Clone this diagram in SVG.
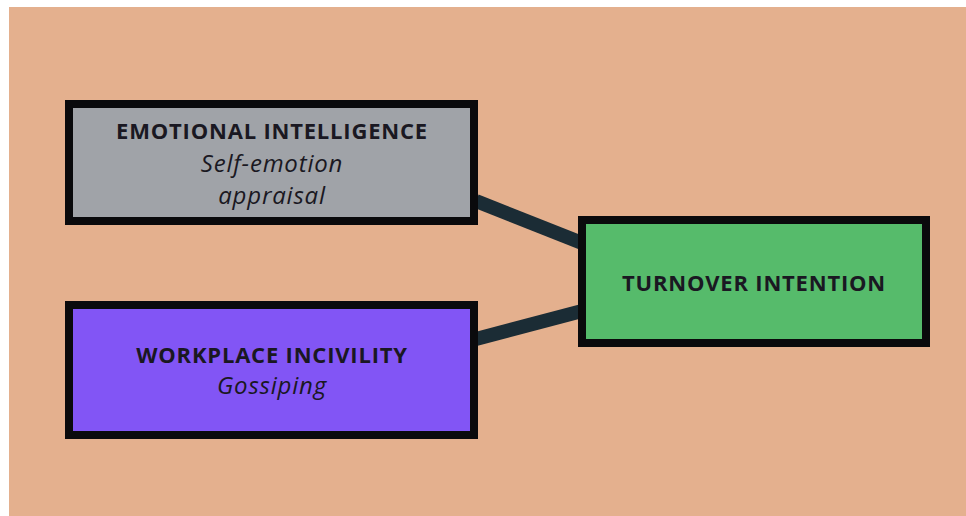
<svg xmlns="http://www.w3.org/2000/svg" width="966" height="516" viewBox="0 0 966 516">
<style>
.box{stroke:#0a0a0c;stroke-width:8}
.t{font-family:"Open Sans","Liberation Sans",sans-serif;fill:#1a1822;text-anchor:middle}
.b{font-weight:700;font-size:22px;letter-spacing:0.8px}
.i{font-style:italic;font-size:24px;letter-spacing:0.8px}
.c{stroke:#1b2c35;stroke-width:14;stroke-linecap:butt}
</style>
<rect width="966" height="516" fill="#ffffff"/>
<rect x="9" y="7" width="957" height="509" fill="#e4b08e"/>
<g id="connectors">
<line class="c" x1="476" y1="201" x2="582" y2="243"/>
<line class="c" x1="476" y1="339" x2="582" y2="311"/>
</g>
<g id="emotional-intelligence">
<rect class="box" x="69" y="104" width="405" height="117" fill="#a0a3a8"/>
<text class="t b" x="272" y="139">EMOTIONAL INTELLIGENCE</text>
<text class="t i" x="272" y="172">Self-emotion</text>
<text class="t i" x="272" y="204">appraisal</text>
</g>
<g id="workplace-incivility">
<rect class="box" x="69" y="305" width="405" height="130" fill="#8255f5"/>
<text class="t b" x="272" y="363">WORKPLACE INCIVILITY</text>
<text class="t i" x="272" y="394">Gossiping</text>
</g>
<g id="turnover-intention">
<rect class="box" x="582" y="220" width="344" height="123" fill="#56bb6b"/>
<text class="t b" x="754" y="291">TURNOVER INTENTION</text>
</g>
</svg>
